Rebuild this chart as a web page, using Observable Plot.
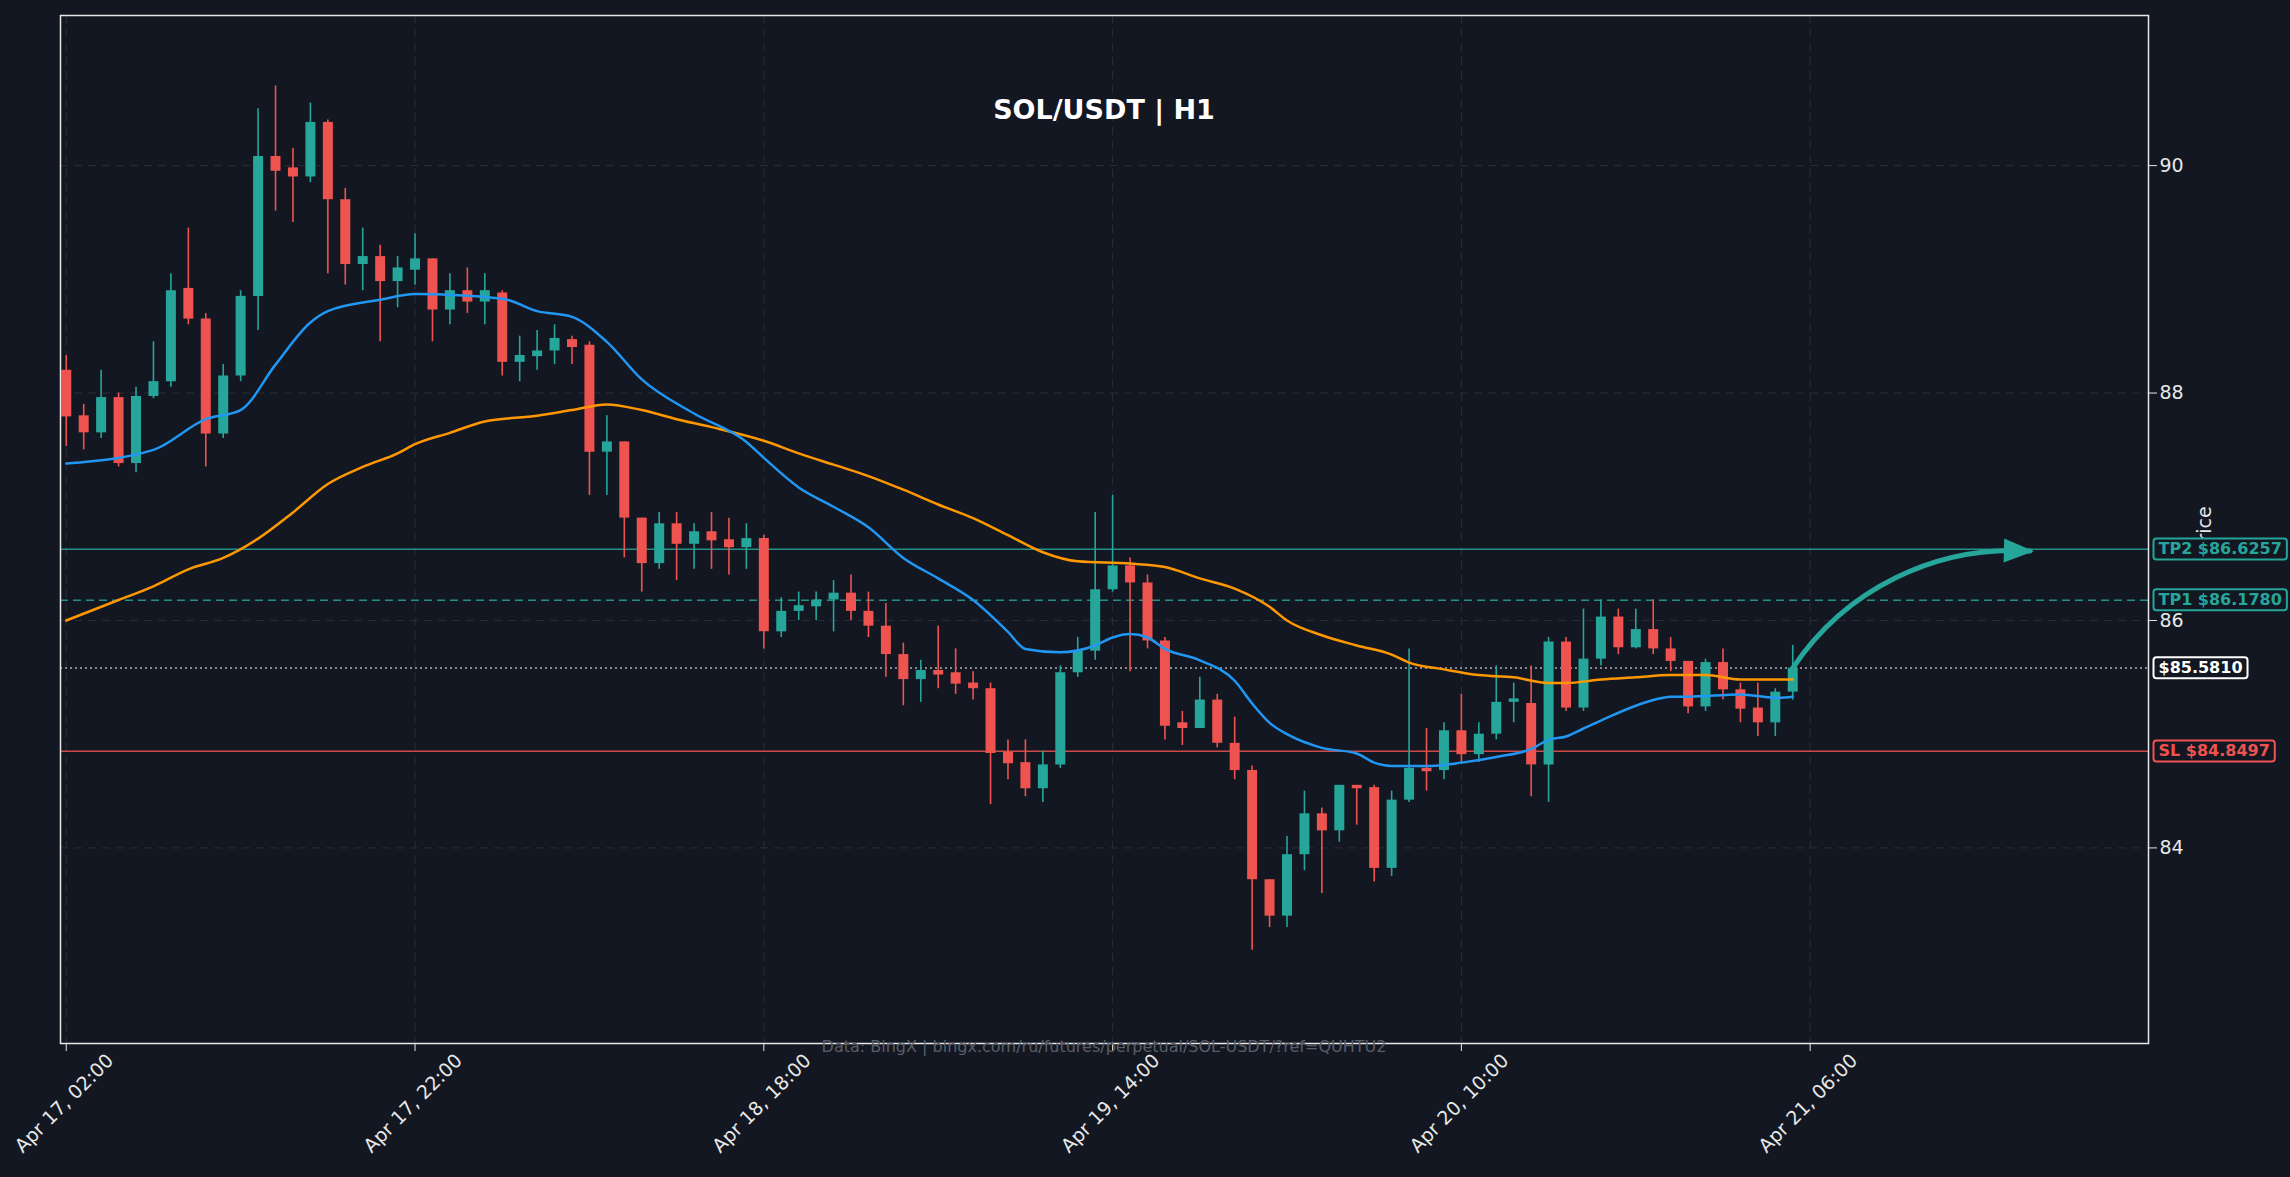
<!DOCTYPE html>
<html><head><meta charset="utf-8">
<script src="https://cdn.jsdelivr.net/npm/d3@7"></script>
<script src="https://cdn.jsdelivr.net/npm/@observablehq/plot@0.6"></script>
<style>
html,body{margin:0;padding:0;background:#131722;}
#c{position:relative;width:2290px;height:1177px;}
</style></head><body><div id="c"></div>
<script>
const opens  = [88.2,87.8,87.65,87.96,87.38,87.97,88.1,88.92,88.65,87.64,88.15,88.85,90.08,89.98,89.9,90.38,89.7,89.13,89.2,88.98,89.08,89.18,88.73,88.9,88.8,88.88,88.27,88.32,88.37,88.47,88.42,87.48,87.57,86.9,86.5,86.85,86.67,86.78,86.71,86.64,86.72,85.9,86.08,86.12,86.18,86.24,86.08,85.95,85.7,85.48,85.56,85.54,85.45,85.4,84.84,84.75,84.52,84.73,85.54,85.73,86.27,86.48,86.33,85.82,85.1,85.05,85.3,84.92,84.68,83.72,83.4,83.94,84.3,84.15,84.55,84.53,83.82,84.42,84.7,84.68,85.03,84.82,85.0,85.28,85.27,84.73,85.81,85.23,85.66,86.03,85.76,85.92,85.75,85.64,85.24,85.63,85.39,85.23,85.1,85.37];
const closes = [87.79,87.65,87.96,87.38,87.97,88.1,88.9,88.65,87.64,88.15,88.85,90.08,89.95,89.9,90.38,89.7,89.13,89.2,88.98,89.1,89.18,88.73,88.9,88.8,88.9,88.27,88.33,88.37,88.48,88.4,87.48,87.57,86.9,86.5,86.85,86.67,86.78,86.7,86.64,86.72,85.9,86.08,86.13,86.18,86.24,86.08,85.95,85.7,85.48,85.56,85.52,85.44,85.4,84.83,84.74,84.52,84.73,85.54,85.73,86.27,86.48,86.33,85.82,85.07,85.05,85.3,84.92,84.68,83.72,83.4,83.94,84.3,84.15,84.55,84.52,83.82,84.42,84.7,84.68,85.03,84.82,85.0,85.28,85.3,84.73,85.81,85.23,85.66,86.03,85.76,85.92,85.75,85.64,85.24,85.63,85.39,85.22,85.1,85.37,85.581];
const highs  = [88.33,87.9,88.2,88.0,88.05,88.45,89.05,89.45,88.7,88.25,88.9,90.5,90.7,90.15,90.55,90.4,89.8,89.45,89.3,89.2,89.4,89.18,89.05,89.1,89.05,88.9,88.5,88.55,88.6,88.5,88.45,87.8,87.57,86.9,86.95,86.95,86.85,86.95,86.9,86.85,86.75,86.2,86.25,86.25,86.35,86.4,86.25,86.15,85.8,85.65,85.95,85.75,85.55,85.45,84.95,84.95,84.85,85.6,85.85,86.95,87.1,86.55,86.4,85.85,85.2,85.5,85.35,85.15,84.72,83.72,84.1,84.5,84.35,84.55,84.55,84.55,84.5,85.75,85.05,85.1,85.35,85.1,85.6,85.45,85.6,85.85,85.85,86.1,86.18,86.1,86.1,86.18,85.85,85.64,85.66,85.75,85.45,85.45,85.4,85.78];
const lows   = [87.53,87.5,87.6,87.35,87.3,87.95,88.05,88.6,87.35,87.6,88.1,88.55,89.6,89.5,89.85,89.05,88.95,88.9,88.45,88.75,88.95,88.45,88.6,88.7,88.6,88.15,88.1,88.2,88.25,88.25,87.1,87.1,86.55,86.25,86.45,86.35,86.45,86.45,86.4,86.45,85.75,85.85,86.0,86.0,85.9,86.0,85.85,85.5,85.25,85.28,85.4,85.35,85.3,84.38,84.6,84.45,84.4,84.7,85.5,85.65,86.25,85.55,85.75,84.95,84.9,85.05,84.88,84.6,83.1,83.3,83.3,83.8,83.6,84.05,84.2,83.7,83.75,84.4,84.5,84.6,84.75,84.75,84.95,85.1,84.45,84.4,85.2,85.2,85.6,85.7,85.75,85.7,85.55,85.18,85.2,85.3,85.1,84.98,84.98,85.3];
const emaFastIdx = [0,5,8,10,12,14,15,18,20,25,27,29,31,33,36,39,40,42,44,46,48,50,52,54,55,57,59,60,61,62,63,65,67,68,69,70,72,74,75,76,78,80,82,84,85,86,87,88,90,91,92,93,96,98,99];
const emaFastVal = [87.38,87.5,87.77,87.85,88.25,88.62,88.72,88.82,88.87,88.83,88.72,88.67,88.45,88.12,87.82,87.57,87.43,87.17,87.0,86.82,86.55,86.37,86.18,85.9,85.75,85.72,85.78,85.85,85.88,85.85,85.75,85.65,85.47,85.27,85.1,85.0,84.88,84.83,84.75,84.72,84.72,84.75,84.8,84.87,84.95,84.98,85.05,85.12,85.25,85.3,85.33,85.33,85.35,85.32,85.33];
const emaSlowIdx = [0,3,5,7,9,11,13,15,17,19,20,22,24,27,29,31,33,35,37,40,42,44,46,48,50,52,54,56,58,61,63,65,67,69,70,72,74,76,77,79,81,83,85,86,88,90,92,94,96,99];
const emaSlowVal = [86.0,86.18,86.3,86.45,86.55,86.72,86.95,87.2,87.35,87.47,87.55,87.65,87.75,87.8,87.85,87.9,87.85,87.77,87.7,87.58,87.47,87.37,87.27,87.15,87.02,86.9,86.75,86.6,86.52,86.5,86.47,86.37,86.28,86.12,86.0,85.87,85.78,85.7,85.63,85.57,85.52,85.5,85.45,85.45,85.48,85.5,85.52,85.52,85.48,85.48];
const levelNames  = ["TP2 $86.6257","TP1 $86.1780","$85.5810","SL $84.8497"];
const levelValues = [86.6257,86.178,85.581,84.8497];
const levelColors = ["#26a69a","#26a69a","#ffffff","#ef5350"];
const levelDash   = ["none","8,5","2,3","none"];
const xTickIdx = [0,20,40,60,80,100];
const xTickLabels = ["Apr 17, 02:00","Apr 17, 22:00","Apr 18, 18:00","Apr 19, 14:00","Apr 20, 10:00","Apr 21, 06:00"];
const yTicks = [84,86,88,90];
const arrowPts = [{x1:99, y1:85.581, x2:112.6, y2:86.61}];

const candles = opens.map((o,i)=>({i,o,c:closes[i],h:highs[i],l:lows[i],up:closes[i]>=o}));
const fast = emaFastIdx.map((x,k)=>({x,y:emaFastVal[k]}));
const slow = emaSlowIdx.map((x,k)=>({x,y:emaSlowVal[k]}));
const levels = levelValues.map((v,k)=>({v,name:levelNames[k],color:levelColors[k],dash:levelDash[k]}));
const UP="#26a69a", DN="#ef5350";

const plot = Plot.plot({
  width:2290, height:1177,
  marginLeft:60, marginRight:142, marginTop:15, marginBottom:134,
  style:{background:"#131722", color:"#e8e8e8", fontFamily:"DejaVu Sans", fontSize:"19px"},
  x:{domain:[-0.33,119.4], label:null},
  y:{domain:[82.28,91.32], label:null},
  marks:[
    Plot.gridX(xTickIdx,{stroke:"#2a2e39",strokeOpacity:1,strokeDasharray:"8,6"}),
    Plot.gridY(yTicks,{stroke:"#2a2e39",strokeOpacity:1,strokeDasharray:"8,6"}),
    Plot.axisX(xTickIdx,{tickSize:0,tickPadding:10,tickFormat:d=>xTickLabels[xTickIdx.indexOf(d)],tickRotate:-45,label:null,dx:44,dy:4,fontSize:19}),
    Plot.axisX(xTickIdx,{tickSize:8,text:null,label:null}),
    Plot.axisY(yTicks,{anchor:"right",tickSize:8,tickFormat:d=>String(d),label:"Price",labelAnchor:"center",labelArrow:"none",labelOffset:62,fontSize:19}),
    ...levels.map(L=>Plot.ruleY([L.v],{stroke:L.color==="#ffffff"?"#c8c8c8":L.color,strokeWidth:1.5,strokeDasharray:L.dash,strokeOpacity:0.85})),
    Plot.ruleX(candles,{x:"i",y1:"l",y2:"h",stroke:d=>d.up?UP:DN,strokeWidth:1.6}),
    Plot.ruleX(candles,{x:"i",y1:"o",y2:d=>Math.abs(d.c-d.o)<0.03?d.o+(d.up?0.03:-0.03):d.c,stroke:d=>d.up?UP:DN,strokeWidth:10}),
    Plot.line(slow,{x:"x",y:"y",stroke:"#ff9800",strokeWidth:2.5,curve:"monotone-x"}),
    Plot.line(fast,{x:"x",y:"y",stroke:"#2196f3",strokeWidth:2.5,curve:"monotone-x"}),
    Plot.arrow(arrowPts,{x1:"x1",y1:"y1",x2:"x2",y2:"y2",bend:30,stroke:"#26a69a",strokeWidth:5,headLength:0}),
    Plot.text(levels,{y:"v",x:119.4,text:"name",fill:"color",dx:10,textAnchor:"start",fontWeight:"bold",fontSize:16,className:"lvl"}),
    Plot.frame({stroke:"#e8e8e8",strokeWidth:1.5})
  ]
});
document.getElementById("c").appendChild(plot);

const svg = d3.select(plot);
svg.selectAll("g.lvl text").each(function(){
  const b=this.getBBox(); const col=d3.select(this).attr("fill");
  d3.select(this.parentNode).insert("rect",()=>this)
    .attr("transform",this.getAttribute("transform"))
    .attr("x",b.x-5).attr("y",b.y-1).attr("width",b.width+10).attr("height",b.height+2)
    .attr("rx",3).attr("fill","#131722").attr("stroke",col).attr("stroke-width",2);
});
const path = svg.select("g[aria-label=arrow] path").node();
if (path) {
  const L = path.getTotalLength();
  const p2 = path.getPointAtLength(L), p1 = path.getPointAtLength(L-20);
  const a = Math.atan2(p2.y-p1.y, p2.x-p1.x);
  const s=26, w=12;
  const bx=p2.x-s*Math.cos(a), by=p2.y-s*Math.sin(a);
  const pts=[[p2.x+4*Math.cos(a),p2.y+4*Math.sin(a)],[bx-w*Math.sin(a),by+w*Math.cos(a)],[bx+w*Math.sin(a),by-w*Math.cos(a)]];
  const tr = path.parentNode.getAttribute("transform");
  svg.append("polygon").attr("transform",tr).attr("points",pts.map(p=>p.join(",")).join(" ")).attr("fill","#26a69a");
}

svg.append("text").attr("x",1104).attr("y",119).attr("text-anchor","middle")
  .attr("fill","#ffffff").attr("font-size",27).attr("font-weight","bold").attr("font-family","DejaVu Sans").text("SOL/USDT | H1");
svg.append("text").attr("x",1104).attr("y",1052).attr("text-anchor","middle")
  .attr("fill","#5a5e68").attr("font-size",16).attr("font-family","DejaVu Sans").text("Data: BingX | bingx.com/ru/futures/perpetual/SOL-USDT/?ref=QUHTU2");
</script></body></html>
